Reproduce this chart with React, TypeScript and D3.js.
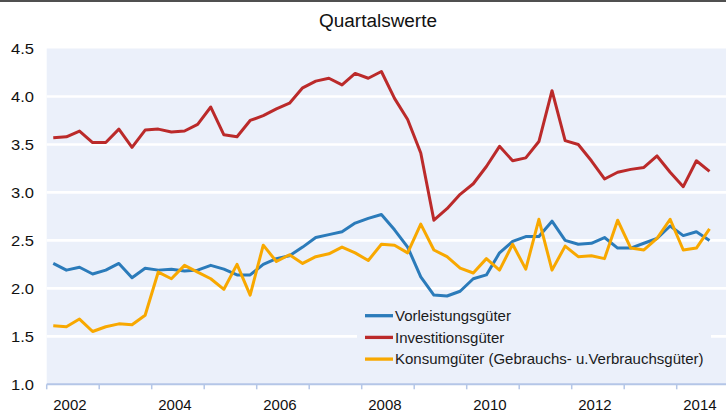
import React, { useEffect, useRef } from 'react';
import * as d3 from 'd3';

const years = ['2002', '2003', '2004', '2005', '2006', '2007', '2008', '2009', '2010', '2011', '2012', '2013', '2014'];
const yearLabels = ['2002', '2004', '2006', '2008', '2010', '2012', '2014'];
const yTicks = [1.0, 1.5, 2.0, 2.5, 3.0, 3.5, 4.0, 4.5];

// Quartalswerte 2002 Q1 .. 2014 Q3
const vorleistung = [
  2.26, 2.19, 2.22, 2.15, 2.19, 2.26, 2.11, 2.21, 2.19, 2.2, 2.18, 2.19, 2.24,
  2.2, 2.14, 2.14, 2.25, 2.31, 2.34, 2.43, 2.53, 2.56, 2.59, 2.68, 2.73, 2.77,
  2.61, 2.43, 2.12, 1.93, 1.92, 1.97, 2.1, 2.14, 2.37, 2.49, 2.54, 2.54, 2.7,
  2.5, 2.46, 2.47, 2.53, 2.42, 2.42, 2.47, 2.52, 2.65, 2.55, 2.59, 2.5,
];
const investition = [
  3.57, 3.58, 3.64, 3.52, 3.52, 3.66, 3.47, 3.65, 3.66, 3.63, 3.64, 3.71, 3.89,
  3.6, 3.58, 3.75, 3.8, 3.87, 3.93, 4.09, 4.16, 4.19, 4.12, 4.24, 4.19, 4.26,
  3.98, 3.76, 3.41, 2.71, 2.83, 2.98, 3.09, 3.27, 3.48, 3.33, 3.36, 3.53, 4.06,
  3.54, 3.5, 3.33, 3.14, 3.21, 3.24, 3.26, 3.38, 3.21, 3.06, 3.33, 3.22,
];
const konsum = [
  1.61, 1.6, 1.68, 1.55, 1.6, 1.63, 1.62, 1.72, 2.17, 2.1, 2.24, 2.17, 2.1,
  1.99, 2.25, 1.93, 2.45, 2.28, 2.35, 2.26, 2.33, 2.36, 2.43, 2.37, 2.29, 2.46,
  2.45, 2.37, 2.67, 2.4, 2.33, 2.21, 2.16, 2.31, 2.19, 2.46, 2.2, 2.72, 2.19,
  2.44, 2.33, 2.34, 2.31, 2.71, 2.42, 2.4, 2.52, 2.72, 2.4, 2.42, 2.62,
];

const series = [
  { name: 'Vorleistungsgüter', values: vorleistung, color: '#2b7bba' },
  { name: 'Investitionsgüter', values: investition, color: '#bb2a2a' },
  { name: 'Konsumgüter (Gebrauchs- u.Verbrauchsgüter)', values: konsum, color: '#f8a800' },
];

const W = 726;
const H = 414;
const left = 46.7;
const right = 729.2;
const top = 48.5;
const bottom = 384.3;
const font = '"Liberation Sans", Arial, sans-serif';

export default function App() {
  const ref = useRef<SVGSVGElement>(null);

  useEffect(() => {
    const svg = d3.select(ref.current);
    svg.selectAll('*').remove();

    const quarters = d3.range(years.length * 4);
    const x = d3.scaleBand<number>().domain(quarters).range([left, right]);
    const xYear = d3.scaleBand<string>().domain(years).range([left, right]);
    const y = d3.scaleLinear().domain([1, 4.5]).range([bottom, top]);

    // frame line at the top
    svg.append('rect').attr('x', 0).attr('y', 0).attr('width', W).attr('height', 2).attr('fill', '#505050');

    svg.append('text')
      .attr('x', 378).attr('y', 27)
      .attr('text-anchor', 'middle')
      .attr('font-family', font).attr('font-size', 18)
      .attr('textLength', 118).attr('lengthAdjust', 'spacingAndGlyphs')
      .attr('fill', '#111')
      .text('Quartalswerte');

    svg.append('rect')
      .attr('x', left).attr('y', top)
      .attr('width', right - left).attr('height', bottom - top)
      .attr('fill', '#ebf0fa');

    // grid
    svg.append('g').selectAll('line').data(yTicks.filter((t) => t > 1 && t < 4.5)).enter()
      .append('line')
      .attr('x1', left).attr('x2', right)
      .attr('y1', (d) => y(d)).attr('y2', (d) => y(d))
      .attr('stroke', '#ffffff').attr('stroke-width', 2.6);

    // legend box hides the grid behind it
    svg.append('rect')
      .attr('x', 357).attr('y', 300).attr('width', 354).attr('height', 78)
      .attr('fill', '#ebf0fa');

    svg.append('g').selectAll('text').data(yTicks).enter()
      .append('text')
      .attr('x', 34).attr('y', (d) => y(d) + 5.4)
      .attr('text-anchor', 'end')
      .attr('font-family', font).attr('font-size', 15)
      .attr('textLength', 23).attr('lengthAdjust', 'spacingAndGlyphs')
      .attr('fill', '#111')
      .text((d) => d.toFixed(1));

    // x axis
    svg.append('line')
      .attr('x1', left).attr('x2', right)
      .attr('y1', bottom).attr('y2', bottom)
      .attr('stroke', '#b4c6e7').attr('stroke-width', 2);
    svg.append('g').selectAll('line').data([...years, 'end']).enter()
      .append('line')
      .attr('x1', (d) => (d === 'end' ? right : xYear(d)!))
      .attr('x2', (d) => (d === 'end' ? right : xYear(d)!))
      .attr('y1', bottom).attr('y2', bottom + 5)
      .attr('stroke', '#b4c6e7').attr('stroke-width', 1.5);
    svg.append('g').selectAll('text').data(yearLabels).enter()
      .append('text')
      .attr('x', (d) => xYear(d)! + xYear.bandwidth() / 2 - 3)
      .attr('y', 410)
      .attr('text-anchor', 'middle')
      .attr('font-family', font).attr('font-size', 15)
      .attr('fill', '#111')
      .text((d) => d);

    const line = d3.line<number>()
      .x((d, i) => x(i)! + x.bandwidth() / 2)
      .y((d) => y(d));

    svg.append('g').selectAll('path').data(series).enter()
      .append('path')
      .attr('d', (d) => line(d.values))
      .attr('fill', 'none')
      .attr('stroke', (d) => d.color)
      .attr('stroke-width', 3)
      .attr('stroke-linejoin', 'round');

    // legend
    const lg = svg.append('g').selectAll('g').data(series).enter()
      .append('g')
      .attr('transform', (d, i) => `translate(365, ${315.7 + i * 21.7})`);
    lg.append('line')
      .attr('x1', 0).attr('x2', 28)
      .attr('stroke', (d) => d.color).attr('stroke-width', 3.3);
    lg.append('text')
      .attr('x', 30).attr('y', 5.3)
      .attr('font-family', font).attr('font-size', 15)
      .attr('fill', '#1a1a1a')
      .text((d) => d.name);
  }, []);

  return (
    <svg
      ref={ref}
      width={W}
      height={H}
      style={{ position: 'absolute', left: 0, top: 0, background: '#fff' }}
    />
  );
}
